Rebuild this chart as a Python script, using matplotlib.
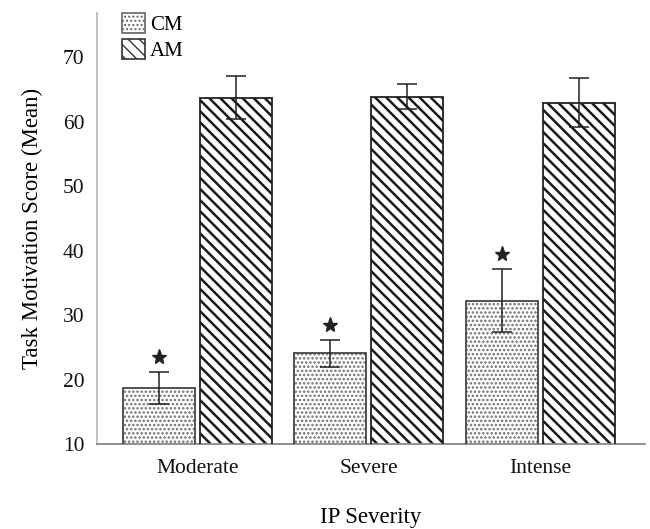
import matplotlib.pyplot as plt
import matplotlib as mpl
import numpy as np

plt.rcParams['font.family'] = ['Liberation Serif', 'DejaVu Serif']

# data
groups = ["Moderate", "Severe", "Intense"]
cm_mean = [18.7, 24.1, 32.2]
cm_err = [2.5, 2.1, 4.9]
am_mean = [63.7, 63.85, 62.9]
am_err = [3.3, 1.95, 3.8]
series_labels = ["CM", "AM"]

x = np.arange(len(groups))
off = 0.2245
w = 0.42

fig = plt.figure(figsize=(6.5, 5.29), dpi=100)
ax = fig.add_axes([0.149, 0.1607, 0.843, 0.8143])

# hatched fill (hatch colour follows edgecolor), then a separate outline
with plt.rc_context({'hatch.linewidth': 1.2}):
    ax.bar(x - off, cm_mean, w, color="white", edgecolor="#6e6e6e",
           hatch="....", linewidth=0, zorder=2)
    h1 = mpl.patches.Patch(facecolor="white", edgecolor="#666666",
                           hatch="....", linewidth=1.2)
with plt.rc_context({'hatch.linewidth': 1.8}):
    ax.bar(x + off, am_mean, w, color="white", edgecolor="#1a1a1a",
           hatch="\\\\\\", linewidth=0, zorder=2)
    h2 = mpl.patches.Patch(facecolor="white", edgecolor="#333333",
                           hatch="\\\\\\", linewidth=1.2)
ax.bar(x - off, cm_mean, w, color="none", edgecolor="#444444",
       linewidth=1.3, zorder=3)
ax.bar(x + off, am_mean, w, color="none", edgecolor="#222222",
       linewidth=1.3, zorder=3)

ax.errorbar(x - off, cm_mean, yerr=cm_err, fmt="none", ecolor="#222222",
            elinewidth=1.1, capsize=7, capthick=1.1, zorder=4)
ax.errorbar(x + off, am_mean, yerr=am_err, fmt="none", ecolor="#222222",
            elinewidth=1.1, capsize=7, capthick=1.1, zorder=4)

# significance stars above CM error bars
for xi, m, e in zip(x - off, cm_mean, cm_err):
    ax.plot([xi], [m + e + 2.3], marker="*", color="#222222",
            markersize=11, zorder=5)

ax.set_xlim(-0.586, 2.609)
ax.set_ylim(10, 76.8)
ax.set_yticks([10, 20, 30, 40, 50, 60, 70])
ax.set_xticks(x)
ax.set_xticklabels(groups)
ax.tick_params(axis="y", length=0, pad=9, labelsize=15.5, labelcolor="#111111")
ax.tick_params(axis="x", length=0, pad=11, labelsize=15.5, labelcolor="#111111")

for s in ["top", "right"]:
    ax.spines[s].set_visible(False)
ax.spines["left"].set_color("#bbbbbb")
ax.spines["bottom"].set_color("#888888")
ax.spines["left"].set_linewidth(1.3)
ax.spines["bottom"].set_linewidth(1.3)

ax.set_ylabel("Task Motivation Score (Mean)", fontsize=16.5, labelpad=14)
ax.set_xlabel("IP Severity", fontsize=16.5, labelpad=21)

ax.legend([h1, h2], series_labels, loc="upper left", frameon=False,
          bbox_to_anchor=(0.03, 1.02), fontsize=15, handlelength=1.1,
          handleheight=1.1, handletextpad=0.25, labelspacing=0.2,
          borderaxespad=0)

fig.savefig("out.png", dpi=100)
